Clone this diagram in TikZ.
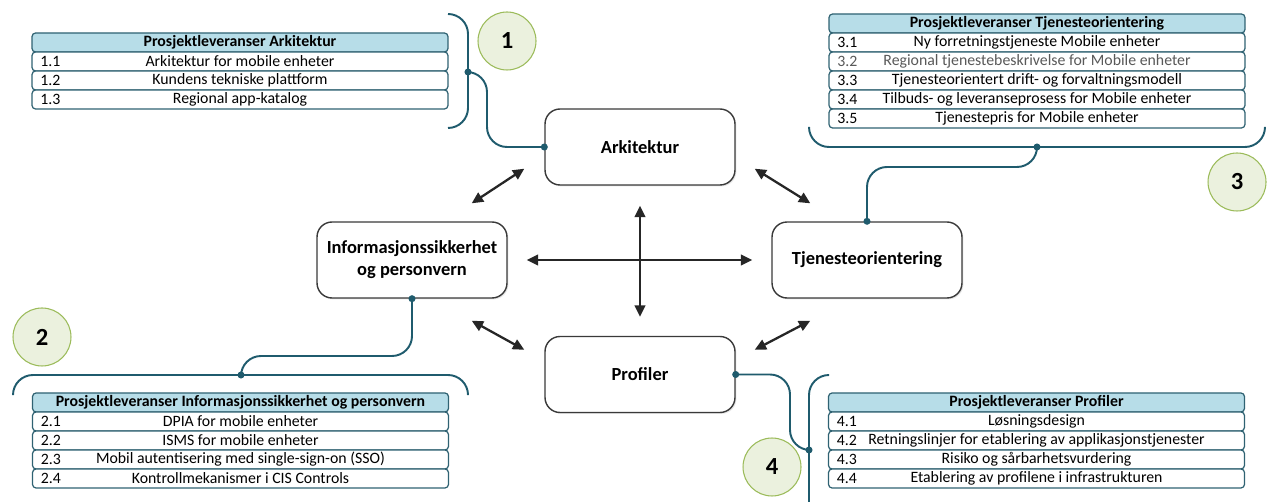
\documentclass[tikz,border=0pt]{standalone}
\usepackage{fontspec}
\setmainfont{Carlito}
\usetikzlibrary{positioning,arrows.meta,shadows}
\definecolor{linkteal}{HTML}{1F5B6D}
\definecolor{rowedge}{HTML}{2F6272}
\definecolor{headfill}{HTML}{B7DDE8}
\definecolor{ballfill}{HTML}{EBF1DE}
\definecolor{balledge}{HTML}{9BBB59}
\definecolor{boxedge}{HTML}{3A3A3A}
\definecolor{dimtext}{HTML}{595959}

\begin{document}
\begin{tikzpicture}[x=0.02cm,y=-0.02cm,
  topic/.style={draw=boxedge,line width=0.8pt,fill=white,rounded corners=0.3cm,minimum width=3.8cm,minimum height=1.52cm,align=center,
    font=\fontsize{10.5}{12.5}\selectfont\bfseries,drop shadow={opacity=0.2,shadow xshift=0.8pt,shadow yshift=-0.8pt}},
  head/.style={draw=rowedge,line width=0.7pt,fill=headfill,rounded corners=2pt,minimum width=8.32cm,minimum height=0.38cm,
    inner sep=0pt,outer sep=0pt,font=\fontsize{9}{10}\selectfont\bfseries},
  row/.style={head,fill=white,font=\fontsize{9}{10}\selectfont,below=0pt of #1},
  num/.style={anchor=west,inner sep=0pt,xshift=0.16cm,font=\fontsize{9}{10}\selectfont},
  ball/.style={circle,draw=balledge,line width=0.6pt,fill=ballfill,minimum size=1.16cm,font=\fontsize{14}{16}\selectfont\bfseries},
  link/.style={draw=linkteal,line width=1.1pt,rounded corners=0.4cm},
  dot/.style={circle,fill=linkteal,inner sep=0pt,minimum size=4pt},
  dbl/.style={<->,>={Triangle[length=6.5pt,width=6pt]},line width=1.3pt,draw=black!85}]
\useasboundingbox (0,0) rectangle (1267,502);

% the four topics
\node (arch) at (640,147) [topic] {Arkitektur};
\node (info) at (412,260) [topic] {Informasjonssikkerhet\\og personvern};
\node (tjen) at (867,260) [topic] {Tjenesteorientering};
\node (prof) at (640,374.5) [topic] {Profiler};

\draw [dbl] ([shift={(-0.4cm,0.34cm)}]arch.south west) -- ([shift={(-0.72cm,0.36cm)}]info.north east);
\draw [dbl] ([shift={(0.38cm,0.34cm)}]arch.south east) -- ([shift={(0.78cm,0.36cm)}]tjen.north west);
\draw [dbl] ([shift={(-0.72cm,-0.44cm)}]info.south east) -- ([shift={(-0.4cm,-0.28cm)}]prof.north west);
\draw [dbl] ([shift={(0.78cm,-0.44cm)}]tjen.south west) -- ([shift={(0.38cm,-0.28cm)}]prof.north east);
\draw [dbl] ([yshift=-0.4cm]arch.south) -- ([yshift=0.38cm]prof.north);
\draw [dbl] ([xshift=0.38cm]info.east) -- ([xshift=-0.38cm]tjen.west);

% deliverables
\node (t1h) at (240,42.5) [head] {Prosjektleveranser Arkitektur};
\node (t1a) [row=t1h,label={[num]west:1.1}] {Arkitektur for mobile enheter};
\node (t1b) [row=t1a,label={[num]west:1.2}] {Kundens tekniske plattform};
\node (t1c) [row=t1b,label={[num]west:1.3}] {Regional app-katalog};

\node (t3h) at (1037,23.5) [head] {Prosjektleveranser Tjenesteorientering};
\node (t3a) [row=t3h,label={[num]west:3.1}] {Ny forretningstjeneste Mobile enheter};
\node (t3b) [row=t3a,text=dimtext,label={[num,text=dimtext]west:3.2}] {Regional tjenestebeskrivelse for Mobile enheter};
\node (t3c) [row=t3b,label={[num]west:3.3}] {Tjenesteorientert drift- og forvaltningsmodell};
\node (t3d) [row=t3c,label={[num]west:3.4}] {Tilbuds- og leveranseprosess for Mobile enheter};
\node (t3e) [row=t3d,label={[num]west:3.5}] {Tjenestepris for Mobile enheter};

\node (t2h) at (240.5,402.5) [head] {Prosjektleveranser Informasjonssikkerhet og personvern};
\node (t2a) [row=t2h,label={[num]west:2.1}] {DPIA for mobile enheter};
\node (t2b) [row=t2a,label={[num]west:2.2}] {ISMS for mobile enheter};
\node (t2c) [row=t2b,label={[num]west:2.3}] {Mobil autentisering med single-sign-on (SSO)};
\node (t2d) [row=t2c,label={[num]west:2.4}] {Kontrollmekanismer i CIS Controls};

\node (t4h) at (1036.5,402.5) [head] {Prosjektleveranser Profiler};
\node (t4a) [row=t4h,label={[num]west:4.1}] {Løsningsdesign};
\node (t4b) [row=t4a,label={[num]west:4.2}] {Retningslinjer for etablering av applikasjonstjenester};
\node (t4c) [row=t4b,label={[num]west:4.3}] {Risiko og sårbarhetsvurdering};
\node (t4d) [row=t4c,label={[num]west:4.4}] {Etablering av profilene i infrastrukturen};

\node (n1) at (507,41) [ball] {1};
\node (n2) at (42,337) [ball] {2};
\node (n3) at (1237,182) [ball] {3};
\node (n4) at (772,467) [ball] {4};

% braces and links
\coordinate (b1) at (468,72);
\coordinate (b2) at (241,375);
\coordinate (b3) at (1037,147);
\coordinate (b4) at (809,450);
\draw [link] (448,14) -- (468,14) -- (468,128) -- (448,128);
\draw [link] (13,393) -- (13,375) -- (468,375) -- (468,393);
\draw [link] (809,128) -- (809,147) -- (1265,147) -- (1265,128);
\draw [link] (829,375) -- (809,375) -- (809,502);

\draw [link] (arch.west) -| ([xshift=0.38cm]b1) -- (b1);
\draw [link] (info.south) |- ([yshift=0.38cm]b2) -- (b2);
\draw [link] (tjen.north) |- ([yshift=-0.4cm]b3) -- (b3);
\draw [link] (prof.east) -| ([xshift=-0.38cm]b4) -- (b4);

\node [dot] at (b1) {};
\node [dot] at (b2) {};
\node [dot] at (b3) {};
\node [dot] at (b4) {};
\node [dot] at (arch.west) {};
\node [dot] at (info.south) {};
\node [dot] at (tjen.north) {};
\node [dot] at (prof.east) {};
\end{tikzpicture}
\end{document}
